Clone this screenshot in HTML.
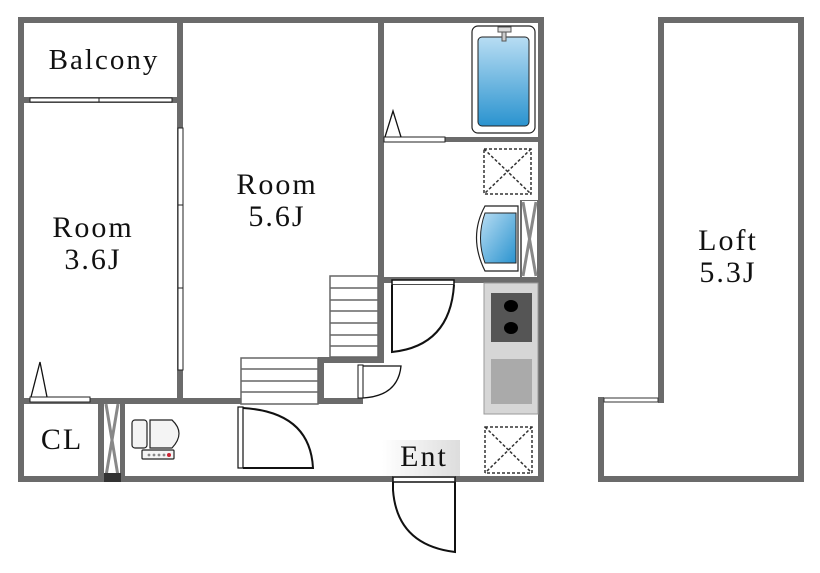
<!DOCTYPE html>
<html><head><meta charset="utf-8"><style>
html,body{margin:0;padding:0;background:#fff;width:820px;height:573px;overflow:hidden}
svg{display:block}
text{font-family:"Liberation Serif",serif;fill:#111;letter-spacing:2px}
</style></head><body>
<svg width="820" height="573" viewBox="0 0 820 573" xmlns="http://www.w3.org/2000/svg">
<defs>
<linearGradient id="bl" x1="0" y1="0" x2="0" y2="1"><stop offset="0" stop-color="#b8ddf3"/><stop offset="1" stop-color="#2a93cf"/></linearGradient>
<linearGradient id="bl2" x1="0" y1="0" x2="1" y2="1"><stop offset="0" stop-color="#b8ddf3"/><stop offset="1" stop-color="#2a93cf"/></linearGradient>
<linearGradient id="eg" x1="0" y1="0" x2="1" y2="0"><stop offset="0" stop-color="#fff"/><stop offset="1" stop-color="#ddd"/></linearGradient>
</defs>
<g fill="#6b6b6b">
<rect x="18" y="17" width="526" height="6"/>
<rect x="18" y="17" width="6" height="465"/>
<rect x="538" y="17" width="6" height="465"/>
<rect x="18" y="476" width="375" height="6"/>
<rect x="455" y="476" width="89" height="6"/>
<rect x="177" y="17" width="6" height="387"/>
<rect x="378" y="17" width="6" height="345"/>
<rect x="445" y="137" width="99" height="5"/>
<rect x="384" y="277" width="160" height="6"/>
<rect x="318" y="357" width="66" height="6"/>
<rect x="318" y="357" width="6" height="46"/>
<rect x="18" y="398" width="345" height="6"/>
<rect x="98" y="404" width="6" height="72"/>
<rect x="120" y="404" width="5" height="72"/>
<rect x="520" y="200" width="18" height="77"/>
<rect x="658" y="17" width="146" height="6"/>
<rect x="658" y="17" width="6" height="386"/>
<rect x="798" y="17" width="6" height="465"/>
<rect x="598" y="476" width="206" height="6"/>
<rect x="598" y="397" width="6" height="85"/>
</g>
<rect x="604" y="398" width="54" height="4" fill="#fff" stroke="#333" stroke-width="1"/>
<rect x="24" y="97" width="153" height="6" fill="#6b6b6b"/>
<rect x="30" y="98" width="142" height="4" fill="#fff" stroke="#222" stroke-width="1"/>
<line x1="99" y1="98" x2="99" y2="102" stroke="#222"/>
<rect x="178" y="128" width="5" height="242" fill="#fff" stroke="#222" stroke-width="1"/>
<line x1="178" y1="205" x2="183" y2="205" stroke="#222"/>
<line x1="178" y1="288" x2="183" y2="288" stroke="#222"/>
<rect x="30" y="397" width="60" height="5" fill="#fff" stroke="#222"/>
<path d="M31 397 L40 362 L47 397" fill="none" stroke="#111" stroke-width="1.3"/>
<rect x="104" y="404" width="16" height="72" fill="#fff"/>
<path d="M106 404 L118 476 M118 404 L106 476" stroke="#888" stroke-width="3"/>
<rect x="104" y="473" width="17" height="9" fill="#333"/>
<rect x="384" y="137" width="61" height="5" fill="#fff" stroke="#222"/>
<path d="M385 137 L393 111 L401 137" fill="none" stroke="#111" stroke-width="1.3"/>
<rect x="472" y="26" width="63" height="107" rx="6" fill="#fff" stroke="#222" stroke-width="1.2"/>
<rect x="478" y="37" width="51" height="89" rx="4" fill="url(#bl)" stroke="#222" stroke-width="1"/>
<rect x="498" y="27" width="13" height="5" fill="#ddd" stroke="#555"/>
<rect x="502" y="32" width="4" height="9" fill="#ccc" stroke="#555"/>
<g fill="none" stroke="#333" stroke-width="1.5" stroke-dasharray="3,2">
<rect x="484" y="149" width="47" height="45"/><path d="M484 149 L531 194 M531 149 L484 194"/>
<rect x="485" y="427" width="47" height="46"/><path d="M485 427 L532 473 M532 427 L485 473"/>
</g>
<path d="M518 206 L485 206 Q468 237 485 271 L518 271 Z" fill="#fff" stroke="#222" stroke-width="1.2"/>
<path d="M516 213 L485 213 Q476 238 485 263 L516 263 Z" fill="url(#bl2)" stroke="#222" stroke-width="1"/>
<rect x="522" y="201" width="15" height="76" fill="#fff"/>
<path d="M523 202 L536 276 M536 202 L523 276" stroke="#888" stroke-width="3"/>
<rect x="484" y="283" width="54" height="131" fill="#d6d6d6" stroke="#999"/>
<rect x="491" y="293" width="41" height="49" fill="#555"/>
<ellipse cx="511" cy="306" rx="7" ry="6" fill="#000"/>
<ellipse cx="511" cy="328" rx="7" ry="6" fill="#000"/>
<rect x="491" y="359" width="41" height="45" fill="#aaa"/>
<g fill="#fff" stroke="#666" stroke-width="1.5">
<rect x="330" y="276" width="48" height="81"/>
<path d="M330 288 H378 M330 300 H378 M330 311 H378 M330 323 H378 M330 335 H378 M330 346 H378"/>
<rect x="241" y="358" width="77" height="46"/>
<path d="M241 369 H318 M241 381 H318 M241 392 H318"/>
</g>
<rect x="392" y="280" width="62" height="5" fill="#fff" stroke="#111" stroke-width="1.5"/>
<path d="M392 285 V352 Q450 346 454 285" fill="#fff" stroke="#111" stroke-width="2"/>
<rect x="358" y="365" width="5" height="33" fill="#fff" stroke="#111"/>
<path d="M363 398 Q398 396 401 366 L363 366" fill="none" stroke="#111" stroke-width="1.3"/>
<rect x="238" y="407" width="5" height="61" fill="#fff" stroke="#111" stroke-width="1.2"/>
<path d="M243 468 H313 Q310 412 243 408" fill="none" stroke="#111" stroke-width="2"/>
<rect x="393" y="477" width="62" height="5" fill="#fff" stroke="#111" stroke-width="1.5"/>
<path d="M393 482 V490 Q397 545 455 552 V482" fill="none" stroke="#111" stroke-width="2"/>
<g stroke="#222" stroke-width="1.2" fill="#f4f4f4">
<rect x="132" y="420" width="15" height="28" rx="3"/>
<path d="M150 420 H172 Q186 433 172 448 H150 Z"/>
<rect x="142" y="450" width="32" height="9" rx="1"/>
</g>
<g fill="#888"><circle cx="149" cy="455" r="1.4"/><circle cx="154" cy="455" r="1.4"/><circle cx="159" cy="455" r="1.4"/><circle cx="164" cy="455" r="1.4"/></g>
<circle cx="169" cy="455" r="2" fill="#c23"/>
<rect x="382" y="440" width="78" height="36" fill="url(#eg)"/>
<text x="104" y="69" font-size="29" text-anchor="middle">Balcony</text>
<text x="93" y="237" font-size="30" text-anchor="middle">Room</text>
<text x="93" y="269" font-size="30" text-anchor="middle">3.6J</text>
<text x="277" y="194" font-size="30" text-anchor="middle">Room</text>
<text x="277" y="226" font-size="30" text-anchor="middle">5.6J</text>
<text x="728" y="250" font-size="30" text-anchor="middle">Loft</text>
<text x="728" y="282" font-size="30" text-anchor="middle">5.3J</text>
<text x="62" y="449" font-size="30" text-anchor="middle">CL</text>
<text x="424" y="466" font-size="30" text-anchor="middle">Ent</text>
</svg>
</body></html>
